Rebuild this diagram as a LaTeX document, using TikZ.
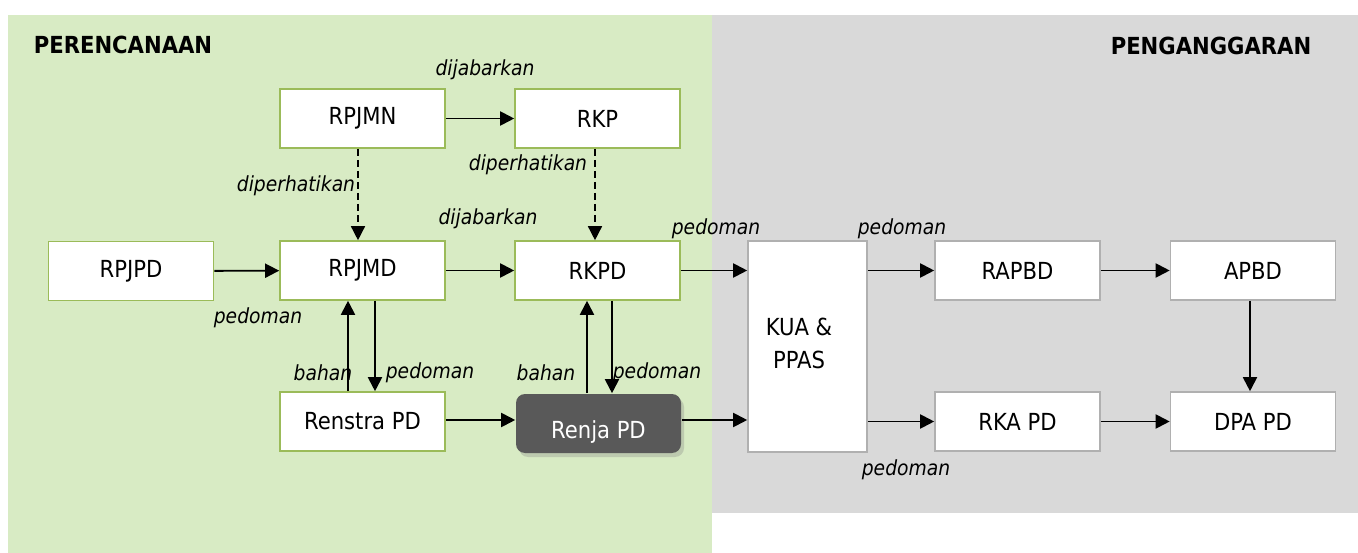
\documentclass[tikz,border=0pt]{standalone}
\usepackage{fontspec}
\setmainfont{DejaVu Sans Condensed}
\usepackage{tikz}
\usetikzlibrary{arrows.meta,shadows}
\definecolor{plangreen}{HTML}{D8EBC4}
\definecolor{budgetgray}{HTML}{D9D9D9}
\definecolor{boxgreen}{HTML}{9BBB59}
\definecolor{boxgray}{HTML}{B0B0B0}
\definecolor{renjafill}{HTML}{595959}
\tikzset{planbox/.style = {draw=boxgreen,line width=1.6pt,fill=white,
    minimum width=165pt,minimum height=59pt,font=\fontsize{23.5}{28}\selectfont}}
\tikzset{budgetbox/.style = {planbox,draw=boxgray}}
\tikzset{arr/.style = {line width=1.9pt,-{Triangle[length=14pt,width=14pt]}}}
\tikzset{dasharr/.style = {arr,line width=1.5pt,dash pattern=on 7pt off 4pt}}
\tikzset{lbl/.style = {font=\fontsize{20.8}{24}\selectfont\itshape,inner sep=0pt}}
\tikzset{areatitle/.style = {font=\fontsize{23.5}{28}\selectfont\bfseries,inner sep=0pt}}

\begin{document}
\begin{tikzpicture}[x=1pt,y=-1pt]
\useasboundingbox (0,0) rectangle (1358,553);
% the two areas
\fill[plangreen] (8,15) rectangle (712,553);
\fill[budgetgray] (712,15) rectangle (1358,513);
\node[areatitle] (perencanaan) at (123,45) {PERENCANAAN};
\node[areatitle] (penganggaran) at (1211,46) {PENGANGGARAN};

\node[planbox] (rpjmn) at (362.5,118.5) {RPJMN};
\node[planbox] (rkp) at (597.5,118.5) {RKP};
\node[planbox] (rpjpd) at (131,271) {RPJPD};
\node[planbox] (rpjmd) at (362.5,270.5) {RPJMD};
\node[planbox] (rkpd) at (597.5,270.5) {RKPD};
\node[planbox] (renstra) at (362.5,421.5) {Renstra PD};
\node[planbox,draw=none,fill=renjafill,text=white,rounded corners=9pt,
  drop shadow={opacity=0.3,shadow xshift=3pt,shadow yshift=-4pt},
  text height=34pt,text depth=5pt] (renja) at (598.5,423.5) {Renja PD};
\node[budgetbox,minimum width=119pt,minimum height=211pt] (kua) at (807.5,346.5) {};
\node[font=\fontsize{23.5}{33}\selectfont,align=center] (kuatext) at (799,343) {KUA \&\\PPAS};
\node[budgetbox] (rapbd) at (1017.5,270.5) {RAPBD};
\node[budgetbox] (apbd) at (1253,270.5) {APBD};
\node[budgetbox] (rkapd) at (1017.5,421.5) {RKA PD};
\node[budgetbox] (dpapd) at (1253,421.5) {DPA PD};

\draw[arr] (rpjmn) -- (rkp);
\draw[dasharr] ([xshift=-4.5pt]rpjmn.south) -- ([xshift=-4.5pt]rpjmn.south |- rpjmd.north);
\draw[dasharr] ([xshift=-2.5pt]rkp.south) -- ([xshift=-2.5pt]rkp.south |- rkpd.north);
\draw[arr] (rpjpd) -- (rpjmd);
\draw[arr] (rpjmd) -- (rkpd);
\draw[arr] (rkpd) -- (rkpd -| kua.west);
\draw[arr] (kua.east |- rapbd) -- (rapbd);
\draw[arr] (rapbd) -- (apbd);
\draw[arr] ([xshift=-3pt]apbd.south) -- ([xshift=-3pt]apbd.south |- dpapd.north);
\draw[arr] ([xshift=-14.5pt]renstra.north) -- ([xshift=-14.5pt]renstra.north |- rpjmd.south);
\draw[arr] ([xshift=12.5pt]rpjmd.south) -- ([xshift=12.5pt]rpjmd.south |- renstra.north);
\draw[arr] ([xshift=-11.5pt]renja.north) -- ([xshift=-11.5pt]renja.north |- rkpd.south);
\draw[arr] ([xshift=14.5pt]rkpd.south) -- ([xshift=14.5pt]rkpd.south |- renja.north);
\draw[arr] (renstra.east |- 0,420) -- (renja.west |- 0,420);
\draw[arr] (renja.east |- 0,420) -- (kua.west |- 0,420);
\draw[arr] (kua.east |- rkapd) -- (rkapd);
\draw[arr] (rkapd) -- (dpapd);

\node[lbl] (lbdijab1) at (485,70) {dijabarkan};
\node[lbl] (lbperhat1) at (296,186) {diperhatikan};
\node[lbl] (lbperhat2) at (528,165) {diperhatikan};
\node[lbl] (lbdijab2) at (488,219) {dijabarkan};
\node[lbl] (lbpedoman1) at (258,318) {pedoman};
\node[lbl] (lbpedoman2) at (716,229) {pedoman};
\node[lbl] (lbpedoman3) at (902,229) {pedoman};
\node[lbl] (lbbahan1) at (323,373) {bahan};
\node[lbl] (lbpedoman4) at (430,373) {pedoman};
\node[lbl] (lbbahan2) at (546,373) {bahan};
\node[lbl] (lbpedoman5) at (657,373) {pedoman};
\node[lbl] (lbpedoman6) at (906,470) {pedoman};
\end{tikzpicture}
\end{document}
